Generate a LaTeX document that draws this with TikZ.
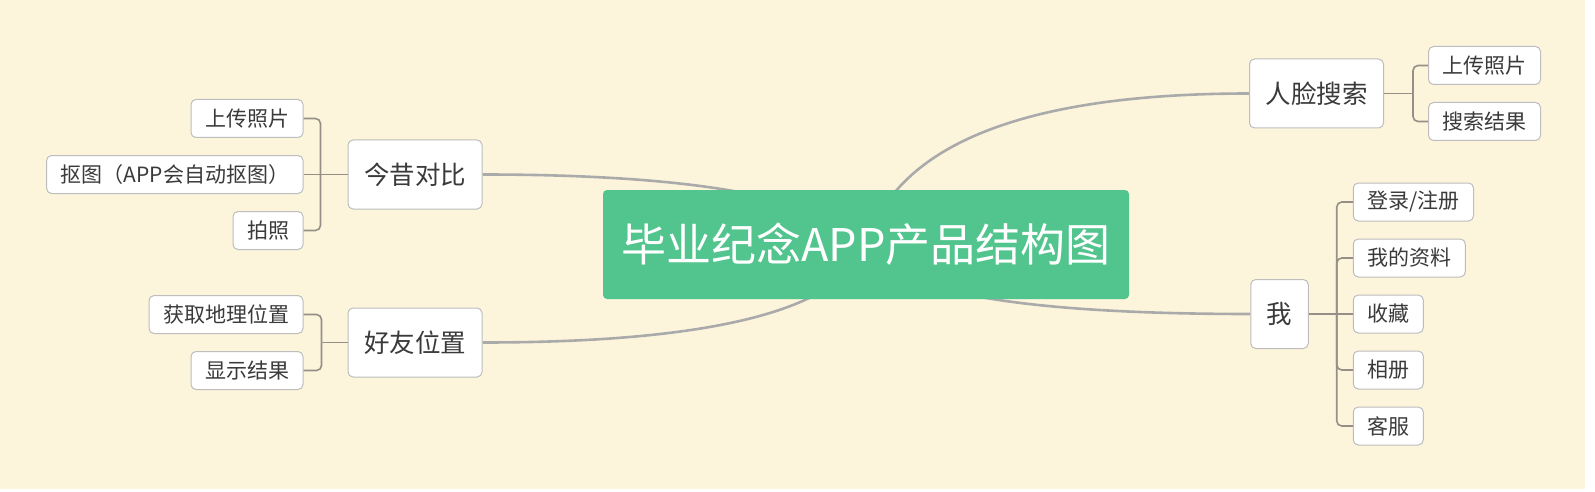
\documentclass[tikz,border=0pt]{standalone}
\usepackage{fontspec}
\setmainfont{Noto Sans CJK SC}
\usepackage{xcolor}
\usepackage{tikz}
\usetikzlibrary{positioning,backgrounds}
\definecolor{cream}{HTML}{FCF5DC}
\definecolor{rootgreen}{HTML}{52C48E}
\definecolor{boxline}{HTML}{BDBDBD}
\definecolor{curvegray}{HTML}{AAAAAA}
\definecolor{forkgray}{HTML}{958F88}
\definecolor{textgray}{HTML}{3A3A3A}
\tikzset{
  root/.style={
    rectangle,
    rounded corners=4pt,
    fill=rootgreen,
    text=white,
    inner xsep=4pt,
    minimum width=526pt,
    minimum height=109pt,
    align=center,
    font=\fontsize{45pt}{49pt}\selectfont
  },
  topic/.style={
    rectangle,
    rounded corners=5pt,
    draw=boxline,
    fill=white,
    line width=1pt,
    text=textgray,
    inner xsep=16pt,
    minimum height=69pt,
    font=\fontsize{25.5pt}{28pt}\selectfont
  },
  leaf/.style={
    rectangle,
    rounded corners=5pt,
    draw=boxline,
    fill=white,
    line width=1pt,
    text=textgray,
    inner xsep=14pt,
    minimum height=38pt,
    font=\fontsize{21pt}{24pt}\selectfont
  },
  curve/.style={line width=2.6pt, draw=curvegray},
  branch/.style={line width=1.6pt, draw=forkgray, rounded corners=5pt}
}

\begin{document}
\begin{tikzpicture}[x=1pt, y=-1pt]

\useasboundingbox (0,0) rectangle (1595,492);

% main nodes
\node[root] (root) at (866,244.5) {毕业纪念APP产品结构图};

\node[topic] (cmp) at (415,174.5) {今昔对比};
\node[topic] (fri) at (415,342.5) {好友位置};
\node[topic] (face) at (1316.5,93.5) {人脸搜索};
\node[topic] (me) at (1279.5,314) {我};

% left: 今昔对比
\node[leaf, left=44pt of cmp] (cmp2) {抠图（APP会自动抠图）};
\node[leaf, above left=17pt and 0pt of cmp2.north east] (cmp1) {上传照片};
\node[leaf, below left=17pt and 0pt of cmp2.south east] (cmp3) {拍照};

% left: 好友位置
\node[leaf, above left=8.5pt and 44pt of fri.west] (fri1) {获取地理位置};
\node[leaf, below left=8.5pt and 44pt of fri.west] (fri2) {显示结果};

% right: 人脸搜索
\node[leaf, above right=8.5pt and 44pt of face.east] (face1) {上传照片};
\node[leaf, below right=8.5pt and 44pt of face.east] (face2) {搜索结果};

% right: 我
\node[leaf, right=44pt of me] (me3) {收藏};
\node[leaf, above right=17pt and 0pt of me3.north west] (me2) {我的资料};
\node[leaf, above right=17pt and 0pt of me2.north west] (me1) {登录/注册};
\node[leaf, below right=17pt and 0pt of me3.south west] (me4) {相册};
\node[leaf, below right=17pt and 0pt of me4.south west] (me5) {客服};

% forks
\coordinate[left=27pt of cmp.west] (cmpfork);
\coordinate[left=26pt of fri.west] (frifork);
\coordinate[right=29pt of face.east] (facefork);
\coordinate[right=28pt of me.east] (mefork);

\draw[branch] (cmp.west) -- (cmpfork);
\draw[branch] (cmp2.east) -- (cmpfork);
\draw[branch] (cmp1.east) -| (cmpfork);
\draw[branch] (cmp3.east) -| (cmpfork);

\draw[branch] (fri.west) -- (frifork);
\draw[branch] (fri1.east) -| (frifork);
\draw[branch] (fri2.east) -| (frifork);

\draw[branch] (face.east) -- (facefork);
\draw[branch] (face1.west) -| (facefork);
\draw[branch] (face2.west) -| (facefork);

\draw[branch] (me.east) -- (mefork);
\draw[branch] (me3.west) -- (mefork);
\foreach \c in {me1,me2,me4,me5}
  \draw[branch] (\c.west) -| (mefork);

% background and curves behind the root
\begin{scope}[on background layer]
\fill[white] (0,0) rectangle (1595,492);
\fill[cream] (0,0) rectangle (1585,489);
\draw[curve] (root.center) .. controls +(-39.4,-45.9) and +(216.6,0) .. (cmp.east);
\draw[curve] (root.center) .. controls +(-24.7,65.5) and +(231.3,0) .. (fri.east);
\draw[curve] (root.center) .. controls +(31.9,-100.8) and +(-223.5,0) .. (face.west);
\draw[curve] (root.center) .. controls +(23,47) and +(-232.3,0) .. (me.west);
\end{scope}

\end{tikzpicture}
\end{document}
